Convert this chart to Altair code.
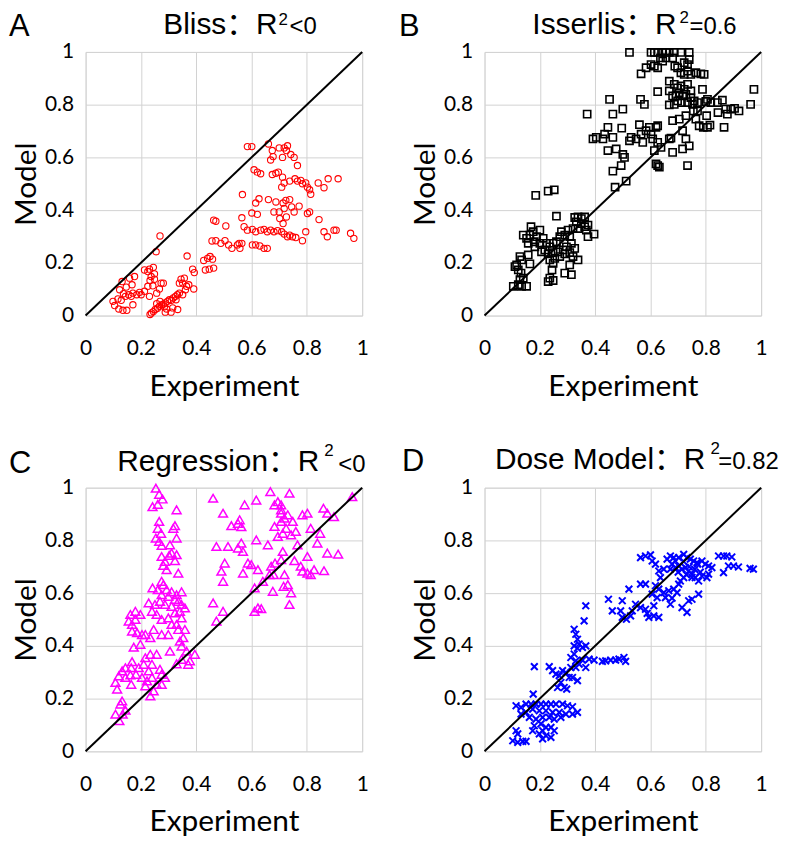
import altair as alt
import pandas as pd

# ---------------- data ----------------
TICKS = [0, 0.2, 0.4, 0.6, 0.8, 1]
diag_vals = [0, 1]

bliss_x = [0.585,0.601,0.661,0.675,0.700,0.718,0.730,0.726,0.712,0.742,0.754,0.669,0.678,
           0.766,0.609,0.621,0.633,0.675,0.688,0.697,0.712,0.709,0.718,0.738,0.757,0.766,
           0.778,0.784,0.796,0.802,0.810,0.814,0.841,0.862,0.877,0.913,0.567,0.615,0.627,
           0.661,0.688,0.714,0.724,0.738,0.700,0.681,0.718,0.745,0.754,0.702,0.714,0.726,
           0.772,0.802,0.810,0.844,0.601,0.621,0.463,0.471,0.507,0.565,
           0.573,0.585,0.603,0.615,0.633,0.645,0.657,0.669,0.681,0.694,0.709,0.718,
           0.730,0.738,0.748,0.760,0.784,0.796,0.862,0.874,0.898,0.906,0.958,0.970,
           0.603,0.615,0.630,0.645,0.657,0.457,0.471,0.489,0.504,0.517,0.529,0.549,0.558,0.565,0.555,
           0.367,0.427,0.441,0.450,0.459,0.433,0.447,0.463,0.387,0.393,0.255,0.269,
           0.132,0.159,0.177,0.123,0.137,0.156,0.165,0.171,0.185,0.201,0.195,0.213,
           0.213,0.225,0.231,0.245,0.237,0.249,0.273,0.281,0.267,0.231,0.171,0.105,
           0.120,0.135,0.149,0.099,0.117,0.129,0.144,0.168,0.147,0.233,0.249,0.225,0.243,0.257,
           0.233,0.238,0.245,0.252,0.260,0.267,0.274,0.281,0.288,0.296,0.303,0.310,0.317,0.325,0.332,0.339,
           0.345,0.357,0.351,0.365,0.373,0.391,0.339,0.288,0.309,0.293,0.315,0.333,0.257,0.269,0.285,0.351,0.361,0.327]
bliss_y = [0.641,0.641,0.651,0.626,0.636,0.636,0.644,0.626,0.600,0.611,0.600,0.590,0.603,
           0.569,0.553,0.544,0.538,0.535,0.540,0.544,0.525,0.487,0.503,0.510,0.519,0.510,
           0.513,0.500,0.503,0.487,0.477,0.460,0.503,0.485,0.519,0.519,0.459,0.427,0.443,
           0.440,0.431,0.427,0.437,0.440,0.393,0.393,0.406,0.412,0.393,0.368,0.349,0.374,
           0.415,0.387,0.393,0.364,0.389,0.384,0.362,0.358,0.340,0.371,
           0.337,0.324,0.327,0.318,0.324,0.327,0.318,0.324,0.318,0.322,0.318,0.309,
           0.299,0.305,0.299,0.296,0.284,0.318,0.318,0.299,0.324,0.324,0.312,0.293,
           0.268,0.268,0.264,0.255,0.255,0.283,0.284,0.274,0.284,0.268,0.255,0.268,0.255,0.274,0.274,
           0.226,0.209,0.217,0.224,0.214,0.173,0.176,0.180,0.176,0.163,0.242,0.302,
           0.129,0.142,0.148,0.098,0.083,0.079,0.073,0.085,0.079,0.079,0.088,0.092,
           0.173,0.167,0.176,0.183,0.148,0.138,0.123,0.123,0.101,0.073,0.041,0.038,
           0.025,0.020,0.020,0.054,0.063,0.058,0.073,0.117,0.108,0.133,0.158,0.111,0.113,0.085,
           0.004,0.010,0.015,0.023,0.028,0.035,0.040,0.043,0.048,0.054,0.060,0.058,0.067,0.073,0.079,0.085,
           0.138,0.142,0.123,0.111,0.117,0.101,0.123,0.013,0.013,0.025,0.029,0.023,0.045,0.054,0.033,0.079,0.098,0.060]

isserlis_x = [0.524,0.602,0.614,0.626,0.644,0.656,0.668,0.686,0.710,0.740,
              0.602,0.614,0.636,0.644,0.656,0.680,0.688,0.698,0.722,0.734,0.740,0.710,0.722,0.734,
              0.746,0.764,0.782,0.794,0.566,0.626,0.584,
              0.668,0.686,0.698,0.710,0.722,0.734,0.746,0.668,0.680,0.692,0.704,0.716,0.728,0.746,
              0.758,0.770,0.788,0.806,0.800,0.626,0.668,0.686,0.698,0.712,0.734,0.752,0.818,0.842,
              0.860,0.844,0.872,0.890,0.904,0.920,0.878,0.974,0.962,0.803,0.815,0.806,0.776,0.791,
              0.866,0.770,0.755,0.764,0.728,0.704,0.680,0.716,0.728,0.740,0.716,0.734,0.680,0.668,
              0.674,0.638,0.614,0.626,0.608,0.602,0.620,0.626,0.596,0.584,0.572,0.560,0.566,0.548,
              0.524,0.530,0.620,0.632,0.626,
              0.564,0.578,0.452,0.500,0.464,0.371,0.496,0.446,0.434,0.464,0.392,0.404,0.428,0.446,
              0.476,0.500,0.506,0.494,0.464,0.472,0.512,
              0.185,0.230,0.252,0.260,0.326,0.338,0.350,0.362,0.332,0.350,0.362,0.374,0.338,0.320,
              0.368,0.396,0.374,
              0.168,0.176,0.164,0.188,0.200,0.180,0.200,0.212,0.224,0.236,0.248,0.260,0.272,0.278,
              0.290,0.302,0.308,0.314,0.296,0.284,0.266,0.248,0.230,0.218,0.206,0.236,0.248,0.254,
              0.272,0.290,0.308,0.326,0.338,0.320,0.308,0.290,0.314,0.244,0.236,0.248,0.230,0.140,
              0.152,0.158,0.182,
              0.128,0.158,0.116,0.134,0.164,0.122,0.132,0.140,0.128,0.122,0.104,0.134,0.152,0.110]
isserlis_y = [0.998,0.998,0.998,0.998,0.998,0.998,0.998,0.998,0.998,0.998,
              0.952,0.946,0.977,0.965,0.977,0.977,0.946,0.940,0.959,0.952,0.971,0.921,0.915,0.927,
              0.915,0.921,0.917,0.915,0.917,0.940,0.940,
              0.889,0.877,0.864,0.871,0.858,0.877,0.852,0.852,0.833,0.833,0.845,0.833,0.839,0.827,
              0.814,0.808,0.858,0.820,0.812,0.849,0.799,0.801,0.814,0.808,0.808,0.801,0.808,0.808,
              0.817,0.770,0.783,0.783,0.786,0.776,0.764,0.858,0.801,0.758,0.722,0.714,0.720,0.714,
              0.714,0.776,0.776,0.745,0.758,0.745,0.739,0.701,0.670,0.644,0.632,0.569,0.619,0.670,
              0.673,0.638,0.626,0.657,0.670,0.688,0.714,0.720,0.714,0.701,0.657,0.724,0.688,0.670,
              0.663,0.676,0.575,0.563,0.569,
              0.820,0.801,0.820,0.783,0.764,0.764,0.711,0.714,0.688,0.676,0.670,0.676,0.670,0.626,
              0.632,0.611,0.600,0.569,0.548,0.487,0.510,
              0.456,0.472,0.477,0.377,0.372,0.374,0.368,0.374,0.355,0.349,0.337,0.343,0.330,0.330,
              0.324,0.309,0.299,
              0.337,0.318,0.305,0.299,0.324,0.280,0.274,0.293,0.274,0.261,0.274,0.280,0.299,0.318,
              0.305,0.324,0.299,0.274,0.261,0.249,0.242,0.239,0.234,0.249,0.242,0.211,0.198,0.217,
              0.224,0.234,0.239,0.255,0.211,0.224,0.192,0.161,0.155,0.173,0.142,0.133,0.129,0.305,
              0.293,0.274,0.261,
              0.224,0.230,0.192,0.211,0.196,0.173,0.161,0.142,0.136,0.117,0.111,0.111,0.111,0.186]

regression_x = [0.254,0.266,0.278,0.242,0.261,0.329,
                0.266,0.261,0.273,0.254,0.266,0.275,0.317,0.323,0.329,0.305,0.311,0.329,0.302,0.275,
                0.287,0.323,0.293,0.335,0.281,
                0.275,0.281,0.242,0.261,0.293,0.275,0.299,0.311,0.329,0.347,0.323,0.335,0.347,0.359,
                0.341,0.323,0.311,0.287,0.269,0.251,0.228,0.240,0.257,0.275,0.299,0.311,0.329,0.347,
                0.335,0.359,0.353,0.341,0.299,0.275,0.246,0.234,0.216,0.204,0.198,0.174,0.168,0.180,
                0.156,0.180,0.198,0.168,0.186,0.162,
                0.347,0.365,0.395,0.377,0.347,0.329,0.371,0.234,0.257,0.216,0.210,0.240,0.228,0.269,
                0.275,0.287,0.240,0.257,0.275,0.246,0.234,0.216,0.168,0.165,0.144,0.132,0.120,0.144,
                0.162,0.108,0.114,0.132,0.126,0.108,0.122,0.134,0.144,0.165,0.182,0.192,0.204,0.222,0.305,
                0.461,0.575,0.617,0.668,0.695,0.707,0.737,0.497,0.557,0.551,0.527,0.563,0.473,0.515,
                0.551,0.563,0.569,0.617,0.659,0.503,0.491,0.497,0.569,0.587,0.599,0.623,0.611,0.461,
                0.473,0.497,0.611,0.623,0.635,
                0.683,0.707,0.719,0.731,0.725,0.749,0.743,0.760,0.713,0.695,0.707,0.683,0.784,0.802,
                0.814,0.848,0.838,0.766,0.713,0.707,0.671,0.685,0.665,0.680,0.719,0.731,0.743,0.716,
                0.737,0.677,0.641,0.755,0.778,0.784,0.802,0.814,0.826,0.862,0.874,0.913,0.860,0.874,
                0.898,0.964,0.802,0.707]
regression_y = [0.998,0.975,0.957,0.928,0.937,0.916,
                0.872,0.846,0.827,0.809,0.796,0.781,0.846,0.856,0.809,0.783,0.752,0.746,0.743,0.739,
                0.720,0.723,0.689,0.676,0.705,
                0.645,0.632,0.620,0.613,0.613,0.594,0.588,0.605,0.594,0.605,0.576,0.569,0.557,0.544,
                0.531,0.525,0.550,0.557,0.569,0.557,0.563,0.531,0.519,0.500,0.506,0.481,0.481,0.506,
                0.462,0.462,0.431,0.418,0.443,0.443,0.462,0.431,0.443,0.443,0.406,0.395,0.481,0.500,
                0.494,0.531,0.519,0.456,0.450,0.519,
                0.399,0.380,0.368,0.343,0.349,0.332,0.330,0.368,0.368,0.355,0.330,0.330,0.305,0.311,
                0.292,0.280,0.280,0.254,0.254,0.229,0.210,0.248,0.340,0.317,0.317,0.305,0.286,0.280,
                0.290,0.261,0.236,0.191,0.179,0.141,0.116,0.141,0.156,0.254,0.292,0.317,0.280,0.267,0.380,
                0.960,0.935,0.953,0.985,0.947,0.935,0.979,0.903,0.878,0.865,0.856,0.852,0.777,0.777,
                0.771,0.790,0.758,0.802,0.783,0.714,0.683,0.645,0.676,0.714,0.708,0.689,0.620,0.563,
                0.494,0.531,0.531,0.544,0.541,
                0.853,0.872,0.884,0.897,0.846,0.872,0.821,0.834,0.827,0.815,0.903,0.935,0.897,0.903,
                0.846,0.827,0.790,0.783,0.758,0.727,0.702,0.714,0.670,0.670,0.670,0.632,0.601,0.626,
                0.557,0.607,0.645,0.723,0.702,0.683,0.676,0.670,0.689,0.685,0.752,0.748,0.922,0.903,
                0.890,0.966,0.739,0.916]

dose_x = [0.564,0.582,0.600,0.606,0.618,0.630,0.648,0.660,0.672,0.684,
          0.690,0.702,0.720,0.732,0.744,0.756,0.768,0.786,0.798,0.810,
          0.822,0.846,0.864,0.876,0.894,0.882,0.900,0.918,0.960,0.972,
          0.864,0.810,0.804,0.786,0.774,0.762,0.750,0.738,0.726,0.714,
          0.702,0.690,0.678,0.672,0.720,0.708,0.702,0.684,0.666,0.648,
          0.630,0.618,0.636,0.582,0.564,0.606,0.624,0.654,0.678,0.672,
          0.696,0.714,0.732,0.738,0.750,0.774,0.612,0.630,0.612,0.594,
          0.588,0.582,0.564,0.546,0.534,0.528,0.498,0.513,0.492,0.462,
          0.498,0.448,0.522,0.366,
          0.740,0.760,0.780,0.720,0.700,0.750,0.770,0.730,
          0.360,0.324,0.330,0.336,0.342,0.324,0.336,0.354,0.366,0.324,0.312,0.330,0.342,0.354,
          0.366,0.378,0.396,0.330,0.312,0.438,0.456,0.474,0.486,0.504,0.510,0.426,
          0.180,0.234,0.246,0.258,0.270,0.282,0.294,0.306,0.318,0.336,0.276,0.264,0.288,0.297,0.176,
          0.114,0.132,0.150,0.168,0.186,0.204,0.222,0.240,0.258,0.282,
          0.300,0.318,0.336,0.318,0.294,0.270,0.246,0.222,0.198,0.174,
          0.150,0.132,0.162,0.186,0.210,0.234,0.204,0.222,0.240,0.252,
          0.210,0.198,0.222,0.240,0.210,0.180,0.174,0.114,0.120,0.102,
          0.120,0.138,0.150,0.252,0.276]
dose_y = [0.735,0.741,0.745,0.722,0.710,0.684,0.691,0.729,0.741,0.735,
          0.722,0.735,0.747,0.735,0.729,0.722,0.716,0.722,0.710,0.703,
          0.697,0.741,0.741,0.741,0.737,0.703,0.703,0.699,0.694,0.691,
          0.678,0.672,0.659,0.665,0.646,0.659,0.672,0.684,0.697,0.691,
          0.703,0.697,0.710,0.691,0.659,0.646,0.634,0.615,0.609,0.602,
          0.615,0.628,0.659,0.634,0.634,0.596,0.583,0.583,0.581,0.558,
          0.602,0.545,0.527,0.571,0.577,0.596,0.552,0.508,0.514,0.508,
          0.523,0.539,0.545,0.558,0.533,0.514,0.508,0.501,0.533,0.533,
          0.571,0.577,0.615,0.552,
          0.700,0.690,0.680,0.720,0.680,0.660,0.710,0.670,
          0.495,0.463,0.444,0.425,0.407,0.400,0.391,0.394,0.400,0.369,0.356,0.343,0.331,0.346,
          0.318,0.350,0.346,0.318,0.318,0.343,0.346,0.346,0.350,0.356,0.341,0.341,
          0.321,0.321,0.306,0.293,0.287,0.306,0.299,0.280,0.280,0.268,0.261,0.242,0.242,0.236,0.217,
          0.173,0.167,0.179,0.179,0.179,0.179,0.179,0.179,0.179,0.179,
          0.173,0.169,0.148,0.141,0.141,0.148,0.148,0.154,0.154,0.160,
          0.148,0.141,0.129,0.122,0.129,0.129,0.104,0.091,0.091,0.078,
          0.078,0.066,0.059,0.053,0.047,0.097,0.078,0.078,0.066,0.040,
          0.034,0.038,0.038,0.122,0.129]

# ---------------- styling ----------------
W, H = 278, 265
TITLE_FONT = "Liberation Sans, Arial, Noto Sans CJK SC"
AXIS_FONT = "Lato"
X_MARK = "M-1,-1L1,1M-1,1L1,-1"

ax_x = alt.Axis(values=TICKS, format="~g", title="Experiment", grid=True,
                gridColor="#d2d2d2", gridWidth=1, ticks=False, domain=False,
                labelFont=AXIS_FONT, labelFontSize=21, labelPadding=22,
                labelFlush=False, labelOverlap=False, labelColor="black",
                titleFont=AXIS_FONT, titleFontSize=30, titleFontWeight="normal",
                titlePadding=13, titleColor="black")
ax_y = alt.Axis(values=TICKS, format="~g", title="Model", grid=True,
                gridColor="#d2d2d2", gridWidth=1, ticks=False, domain=False,
                labelFont=AXIS_FONT, labelFontSize=21, labelPadding=12,
                labelFlush=False, labelOverlap=False, labelColor="black",
                titleFont=AXIS_FONT, titleFontSize=30, titleFontWeight="normal",
                titlePadding=3, titleColor="black")


def text_layer(txt, x, y, size, align="left"):
    return alt.Chart(pd.DataFrame({"t": [txt]})).mark_text(
        align=align, baseline="alphabetic", font=TITLE_FONT, fontSize=size,
        color="black").encode(text="t:N", x=alt.value(x), y=alt.value(y))


def panel(xs, ys, shape, color, size, sw, letter, letter_x, letter_y,
          head, r_end, head_y, sup_x, sup_y, tail, tail_x, tail_y):
    sc = alt.Scale(domain=[0, 1], nice=False, zero=False)
    X = alt.X("x:Q", scale=sc, axis=ax_x)
    Y = alt.Y("y:Q", scale=sc, axis=ax_y)
    pts = alt.Chart(pd.DataFrame({"x": xs, "y": ys})).mark_point(
        shape=shape, filled=False, color=color, size=size, strokeWidth=sw,
        opacity=1).encode(x=X, y=Y)
    diag = alt.Chart(pd.DataFrame({"x": diag_vals, "y": diag_vals})).mark_line(
        color="black", strokeWidth=2).encode(x=X, y=Y)
    layers = [pts, diag,
              text_layer(letter, letter_x, letter_y, 31),
              text_layer(head, r_end, head_y, 30, align="right"),
              text_layer("2", sup_x, sup_y, 17),
              text_layer(tail, tail_x, tail_y, 24)]
    return alt.layer(*layers).properties(width=W, height=H)


pA = panel(bliss_x, bliss_y, "circle", "#ff0000", 40, 1.1,
           "A", -77, -16, "Bliss：R", 193, -18, 194, -27, "<0", 205, -18)
pB = panel(isserlis_x, isserlis_y, "square", "#000000", 52, 1.6,
           "B", -86, -16, "Isserlis：R", 193, -18, 196, -29, "=0.6", 206, -18)
pC = panel(regression_x, regression_y, "triangle-up", "#ff00ff", 80, 1.5,
           "C", -77, -15, "Regression：R", 235, -17, 240, -32, "<0", 254, -16)
pD = panel(dose_x, dose_y, X_MARK, "#0000ff", 46, 2,
           "D", -83, -17, "Dose Model：R", 222, -19, 227, -34, "=0.82", 235, -19)

chart = alt.concat(pA, pB, pC, pD, columns=2,
                   spacing={"row": 173, "column": 123}, bounds="flush").properties(
    padding={"left": 0, "top": -2, "right": 5, "bottom": 5}
).configure_view(stroke="black", strokeWidth=1.5).configure(background="white")

chart.save("out.html", embed_options={"renderer": "svg", "actions": False})
